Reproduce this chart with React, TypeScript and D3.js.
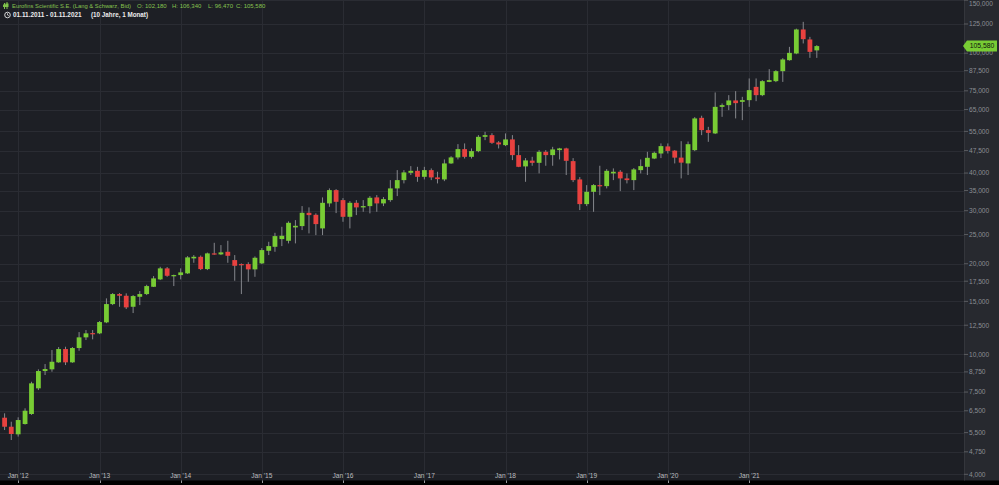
import React from "react";
import * as d3 from "d3";

const W = 999;
const H = 485;

// Monthly candles, Nov 2011 .. Nov 2021
const startMonth = new Date(2011, 10, 1);
const endMonth = new Date(2021, 10, 1);

const opens = [
  6165, 5754, 5430, 5874, 6341, 7717, 8807, 8923, 9413, 10420, 9413, 10500, 11394, 11770, 11748, 12778,
  14695, 15863, 15658, 14395, 15538, 15863, 16772, 17748, 19305, 18243, 18340, 18580, 20837, 21092, 19201, 21648,
  21484, 21915, 20568, 19949, 19949, 19158, 20055, 22082, 22767, 24148, 23836, 26405, 26669, 29521, 29074, 26205,
  31720, 35114, 32531, 28633, 31865, 30768, 31072, 33208, 31720, 32531, 35574, 37902, 40074, 40692, 38868, 40912,
  38694, 38100, 43060, 45080, 48034, 45286, 47303, 52764, 53454, 50553, 49522, 51730, 45882, 42087, 43990, 43256,
  47051, 45882, 47667, 48291, 43825, 38100, 31552, 34662, 36481, 36200, 39892, 40400, 38400, 37902, 40912, 41955,
  44700, 46450, 49040, 47480, 45010, 43060, 47667, 61014, 55537, 54153, 66357, 67224, 69683, 68946, 69845, 77313,
  72563, 80300, 80759, 87170, 94814, 99792, 119883, 111060, 102180,
];
const highs = [
  6375, 5979, 6184, 6624, 8116, 8923, 9291, 10341, 10581, 10605, 10580, 11865, 12048, 12048, 12905, 15350,
  15985, 15985, 15950, 15740, 16230, 17030, 18201, 19541, 19500, 18400, 19305, 21200, 21368, 21300, 21780, 23473,
  23065, 23835, 21368, 20050, 20230, 21150, 22540, 23655, 25337, 26527, 27650, 27921, 31072, 30768, 29400, 33208,
  35574, 35380, 33030, 32280, 32531, 32531, 33540, 33800, 33300, 37902, 40912, 40912, 42181, 41955, 41955, 41450,
  40400, 44398, 45500, 49903, 50170, 48291, 53460, 54822, 54230, 51060, 54153, 53454, 49522, 44840, 45286, 47667,
  47667, 48883, 48500, 48550, 44840, 38790, 36481, 36760, 42300, 41230, 41450, 40912, 39892, 41560, 44398, 47051,
  47130, 50170, 50170, 47667, 51040, 50900, 61350, 62000, 56953, 74078, 68104, 72563, 74818, 71626, 82443, 82443,
  81377, 88515, 87839, 96278, 104952, 120650, 127050, 113287, 106340,
];
const lows = [
  5611, 5199, 5336, 5850, 6300, 7617, 8542, 8761, 9380, 9220, 9380, 10285, 11162, 11222, 11680, 12700,
  14580, 14395, 14145, 13719, 14580, 15740, 16740, 17653, 18100, 16862, 17748, 18500, 20147, 19055, 19055, 21420,
  21368, 20147, 17559, 15863, 17426, 18103, 19949, 21368, 21915, 22890, 23367, 23367, 25867, 25222, 24896, 24896,
  30907, 29454, 27561, 26205, 29008, 29750, 29400, 29750, 31072, 32112, 33540, 36957, 39400, 37414, 38100, 37902,
  36957, 37610, 42900, 44398, 44700, 44700, 46900, 51452, 50000, 48291, 49150, 44160, 41850, 37414, 42300, 39892,
  42300, 42300, 44398, 39400, 37330, 30138, 31072, 29750, 33800, 35574, 37902, 34850, 36957, 35114, 39892, 39400,
  44500, 44840, 46450, 43060, 38400, 39400, 47303, 53454, 50787, 53900, 61476, 64707, 60732, 59947, 66357, 69300,
  72000, 80140, 80140, 80300, 94450, 99250, 107722, 96502, 96470,
];
const closes = [
  5754, 5443, 6057, 6503, 8017, 8807, 8943, 9456, 10420, 9413, 10500, 11394, 11748, 11680, 12807, 14695,
  15863, 15658, 14329, 15622, 15863, 16862, 17884, 19305, 18243, 18340, 18723, 20996, 21092, 19201, 21648, 21533,
  21814, 21255, 19691, 19900, 19158, 20934, 22201, 22890, 24707, 24765, 27350, 26731, 29521, 29008, 27080, 31865,
  35114, 32112, 28633, 31865, 30768, 31072, 33110, 31720, 32781, 35574, 37902, 40199, 40692, 38868, 40912, 38694,
  38194, 43060, 45080, 48034, 45286, 47303, 52764, 53454, 50404, 49800, 51730, 45882, 41955, 44059, 43256, 47051,
  45882, 47924, 48291, 43923, 37902, 31552, 34662, 36481, 36200, 40692, 40400, 38400, 37902, 41130, 42181, 44946,
  46692, 49150, 47380, 45010, 43320, 49880, 60732, 55537, 54400, 66357, 67224, 69683, 68260, 69845, 75391, 72563,
  80759, 81377, 87170, 95326, 100247, 119883, 111319, 101020, 105580,
];

const yTicks = [
  4000, 4750, 5500, 6500, 7500, 8750, 10000, 12500, 15000, 17500, 20000, 25000, 30000, 35000, 40000, 47500,
  55000, 65000, 75000, 87500, 100000, 125000, 150000,
];
const xTickYears = [2012, 2013, 2014, 2015, 2016, 2017, 2018, 2019, 2020, 2021];

const title = "Eurofins Scientific S.E. (Lang & Schwarz, Bid)";
const ohlcLabels = ["O: 102,180", "H: 106,340", "L: 96,470", "C: 105,580"];
const rangeLabel = "01.11.2011 - 01.11.2021";
const periodLabel = "(10 Jahre, 1 Monat)";
const lastPrice = 105580;

const BG = "#1d1f25";
const AXIS_BG = "#27292f";
const GRID = "#2a2c33";
const UP = "#78cc34";
const DOWN = "#e8413f";
const WICK = "#85878c";
const FONT = "'Liberation Sans', Arial, sans-serif";

export default function App() {
  const plotRight = 964;
  const plotBottom = 480.5;
  const months = d3.timeMonth.range(startMonth, d3.timeMonth.offset(endMonth, 1));
  const x = d3.scaleTime().domain([startMonth, endMonth]).range([4.6, 816.8]);
  const y = d3.scaleLog().domain([4000, 125000]).range([474.3, 24]);
  const fmt = d3.format(",");
  const bw = 4.8;

  const candles = months.map((d, i) => ({
    d,
    o: opens[i],
    h: highs[i],
    l: lows[i],
    c: closes[i],
  }));

  const py = y(lastPrice);

  return (
    <>
      <style>{`body{margin:0;background:#000;} svg{display:block;}`}</style>
      <svg width={W} height={H} style={{ fontFamily: FONT }}>
        <rect x={0} y={0} width={W} height={H} fill="#000" />
        <rect x={0} y={0} width={plotRight} height={plotBottom} fill={BG} />
        <rect x={plotRight} y={0} width={W - plotRight} height={plotBottom} fill={AXIS_BG} />
        {/* horizontal grid */}
        {yTicks.map((t) => (
          <line key={"hg" + t} x1={0} x2={plotRight} y1={Math.round(y(t)) + 0.5} y2={Math.round(y(t)) + 0.5} stroke={GRID} strokeWidth={1} />
        ))}
        {/* vertical grid */}
        {xTickYears.map((yr) => {
          const xx = Math.round(x(new Date(yr, 0, 1))) + 0.5;
          return <line key={"vg" + yr} x1={xx} x2={xx} y1={0} y2={plotBottom} stroke={GRID} strokeWidth={1} />;
        })}
        <line x1={plotRight + 0.5} x2={plotRight + 0.5} y1={0} y2={plotBottom} stroke="#34363c" />
        {/* candles */}
        {candles.map((k, i) => {
          const cx = x(k.d);
          const up = k.c >= k.o;
          const top = y(Math.max(k.o, k.c));
          const bot = y(Math.min(k.o, k.c));
          return (
            <g key={i}>
              <line x1={cx} x2={cx} y1={y(k.h)} y2={y(k.l)} stroke={WICK} strokeWidth={1} />
              <rect x={cx - bw / 2} y={top} width={bw} height={Math.max(1.2, bot - top)} fill={up ? UP : DOWN} />
            </g>
          );
        })}
        {/* y axis */}
        {yTicks.map((t) => {
          const ty = y(t);
          return (
            <g key={"yt" + t}>
              <line x1={plotRight} x2={plotRight + 4} y1={ty} y2={ty} stroke="#5a5c61" />
              <text x={plotRight + 5} y={Math.max(ty + 2.3, 5.5)} fontSize={6.6} fill="#8b8e94">
                {fmt(t)}
              </text>
            </g>
          );
        })}
        {/* last price tag */}
        <path
          d={`M${plotRight - 1},${py} L${plotRight + 3},${py - 5.5} L${W - 2},${py - 5.5} L${W - 2},${py + 5.5} L${plotRight + 3},${py + 5.5} Z`}
          fill={UP}
        />
        <text x={(plotRight + 3 + W - 2) / 2} y={py} dy="0.35em" fontSize={6.8} fill="#10130e" textAnchor="middle">
          {fmt(lastPrice)}
        </text>
        {/* x axis labels */}
        {xTickYears.map((yr) => {
          const xx = x(new Date(yr, 0, 1));
          return (
            <g key={"xt" + yr}>
              <text x={xx} y={477.5} fontSize={6.6} fill="#b9bbbf" textAnchor="middle">
                {`Jan '${String(yr).slice(2)}`}
              </text>
              <line x1={Math.round(xx) + 0.5} x2={Math.round(xx) + 0.5} y1={plotBottom} y2={plotBottom + 2.5} stroke="#9a9ca0" />
            </g>
          );
        })}
        {/* header */}
        <g>
          <rect x={4} y={3} width={1} height={6} fill="#7fc24a" />
          <rect x={6.5} y={2} width={1} height={7} fill="#7fc24a" />
          <rect x={3} y={4.5} width={3} height={2.5} fill="#7fc24a" />
          <rect x={5.5} y={3.5} width={3} height={3.5} fill="#7fc24a" />
          <text x={12} y={8} fontSize={5.85} fill="#86c24f">
            {title}
          </text>
          {ohlcLabels.map((s, i) => (
            <text key={s} x={[137, 172, 208, 236][i]} y={8} fontSize={6.0} fill="#86c24f">
              {s}
            </text>
          ))}
          <circle cx={7.5} cy={15} r={2.8} fill="none" stroke="#e6e6e6" strokeWidth={0.9} />
          <path d="M7.5,13.3 L7.5,15 L8.8,15.8" fill="none" stroke="#e6e6e6" strokeWidth={0.8} />
          <text x={13} y={17} fontSize={6.4} fontWeight="bold" fill="#ececec">
            {rangeLabel}
          </text>
          <text x={91} y={17} fontSize={6.3} fontWeight="bold" fill="#ececec">
            {periodLabel}
          </text>
        </g>
      </svg>
    </>
  );
}
